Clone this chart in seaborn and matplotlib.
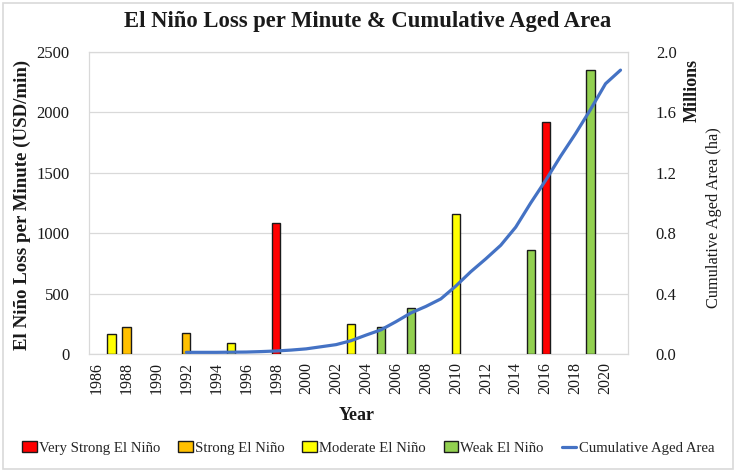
import matplotlib
matplotlib.use("Agg")
import matplotlib.pyplot as plt
import seaborn as sns
import pandas as pd
from matplotlib.patches import Patch, Rectangle
from matplotlib.lines import Line2D

# ---------------- data ----------------
bar_years = [1987, 1988, 1992, 1995, 1998, 2003, 2005, 2007, 2010, 2015, 2016, 2019]
bar_values = [165, 225, 175, 95, 1085, 245, 220, 380, 1155, 860, 1920, 2355]
bar_class = ["Moderate El Niño", "Strong El Niño", "Strong El Niño", "Moderate El Niño",
             "Very Strong El Niño", "Moderate El Niño", "Weak El Niño", "Weak El Niño",
             "Moderate El Niño", "Weak El Niño", "Very Strong El Niño", "Weak El Niño"]
class_order = ["Very Strong El Niño", "Strong El Niño", "Moderate El Niño", "Weak El Niño"]
class_colors = ["#FF0000", "#FFC000", "#FFFF00", "#92D050"]

line_years = list(range(1992, 2022))
line_values = [0.011, 0.011, 0.011, 0.012, 0.013, 0.016, 0.020, 0.026, 0.034, 0.048,
               0.062, 0.088, 0.125, 0.160, 0.214, 0.272, 0.315, 0.365, 0.450, 0.545,
               0.630, 0.720, 0.840, 1.000, 1.150, 1.310, 1.460, 1.620, 1.790, 1.880]
line_label = "Cumulative Aged Area"
line_color = "#4472C4"

x_ticks = list(range(1986, 2021, 2))
left_ticks = [0, 500, 1000, 1500, 2000, 2500]
right_ticks = [0.0, 0.4, 0.8, 1.2, 1.6, 2.0]

title = "El Niño Loss per Minute & Cumulative Aged Area"
xlabel = "Year"
ylabel_left = "El Niño Loss per Minute (USD/min)"
ylabel_right = "Cumulative Aged Area (ha)"
ylabel_right_unit = "Millions"

# ---------------- style ----------------
sns.set_theme(style="white")
plt.rcParams["font.family"] = ["Liberation Serif", "DejaVu Serif"]
grid_c = "#D9D9D9"
txt_c = "#1a1a1a"

fig = plt.figure(figsize=(7.36, 4.72), dpi=100)
ax = fig.add_axes([89 / 736, 1 - 354 / 472, (628 - 89) / 736, (354 - 52) / 472])

df = pd.DataFrame({"year": bar_years, "loss": bar_values, "cls": bar_class})
sns.barplot(data=df, x="year", y="loss", hue="cls", hue_order=class_order,
            palette=class_colors, saturation=1, dodge=False, native_scale=True, width=0.55,
            edgecolor="#1a1a1a", linewidth=1.0, legend=False, ax=ax, zorder=3)

ax.set_xlim(1985.5, 2021.5)
ax.set_ylim(0, 2500)
ax.set_yticks(left_ticks)
ax.set_yticklabels([str(v) for v in left_ticks], fontsize=12, color=txt_c)
ax.set_xticks(x_ticks)
ax.set_xticklabels([str(v) for v in x_ticks], rotation=90, fontsize=11.5, color=txt_c)
ax.tick_params(axis="both", length=0)
ax.tick_params(axis="y", pad=14)
ax.tick_params(axis="x", pad=6)
ax.yaxis.grid(True, color=grid_c, linewidth=0.9, zorder=0)
ax.set_axisbelow(True)
for s in ax.spines.values():
    s.set_color(grid_c)
    s.set_linewidth(0.9)
ax.set_xlabel("")
ax.set_ylabel("")

ax2 = ax.twinx()
sns.lineplot(x=line_years, y=line_values, color=line_color, linewidth=2.3, ax=ax2, zorder=4)
ax2.set_ylim(0, 2.0)
ax2.set_yticks(right_ticks)
ax2.set_yticklabels([f"{v:.1f}" for v in right_ticks], fontsize=12, color=txt_c)
ax2.tick_params(axis="y", length=0, pad=20)
for s in ax2.spines.values():
    s.set_visible(False)
ax2.set_ylabel("")

# titles / labels
fig.text(0.5, 1 - 21 / 472, title, ha="center", va="center", fontsize=16.3,
         fontweight="bold", color=txt_c)
fig.text(22 / 736, 1 - 205 / 472, ylabel_left, rotation=90, ha="center", va="center",
         fontsize=13.6, fontweight="bold", color=txt_c)
fig.text(692 / 736, 1 - 90 / 472, ylabel_right_unit, rotation=90, ha="center", va="center",
         fontsize=13, fontweight="bold", color=txt_c)
fig.text(714 / 736, 1 - 218 / 472, ylabel_right, rotation=90, ha="center", va="center",
         fontsize=11.8, color=txt_c)
fig.text(357 / 736, 1 - 415 / 472, xlabel, ha="center", va="center", fontsize=13,
         fontweight="bold", color=txt_c)

# legend
handles = [Patch(facecolor=c, edgecolor="#1a1a1a", linewidth=1.0, label=l)
           for c, l in zip(class_colors, class_order)]
handles.append(Line2D([0], [0], color=line_color, linewidth=2.3, label=line_label))
fig.legend(handles=handles, loc="center", bbox_to_anchor=(0.5, 1 - 448 / 472), ncol=5,
           frameon=False, fontsize=10.6, handlelength=1.0, handleheight=0.8,
           handletextpad=0.15, columnspacing=1.2, borderaxespad=0)

# chart border
fig.patches.append(Rectangle((3 / 736, 3 / 472), 730 / 736, 466 / 472,
                             transform=fig.transFigure, fill=False,
                             edgecolor=grid_c, linewidth=1.2))

fig.savefig("out.png", dpi=100)
